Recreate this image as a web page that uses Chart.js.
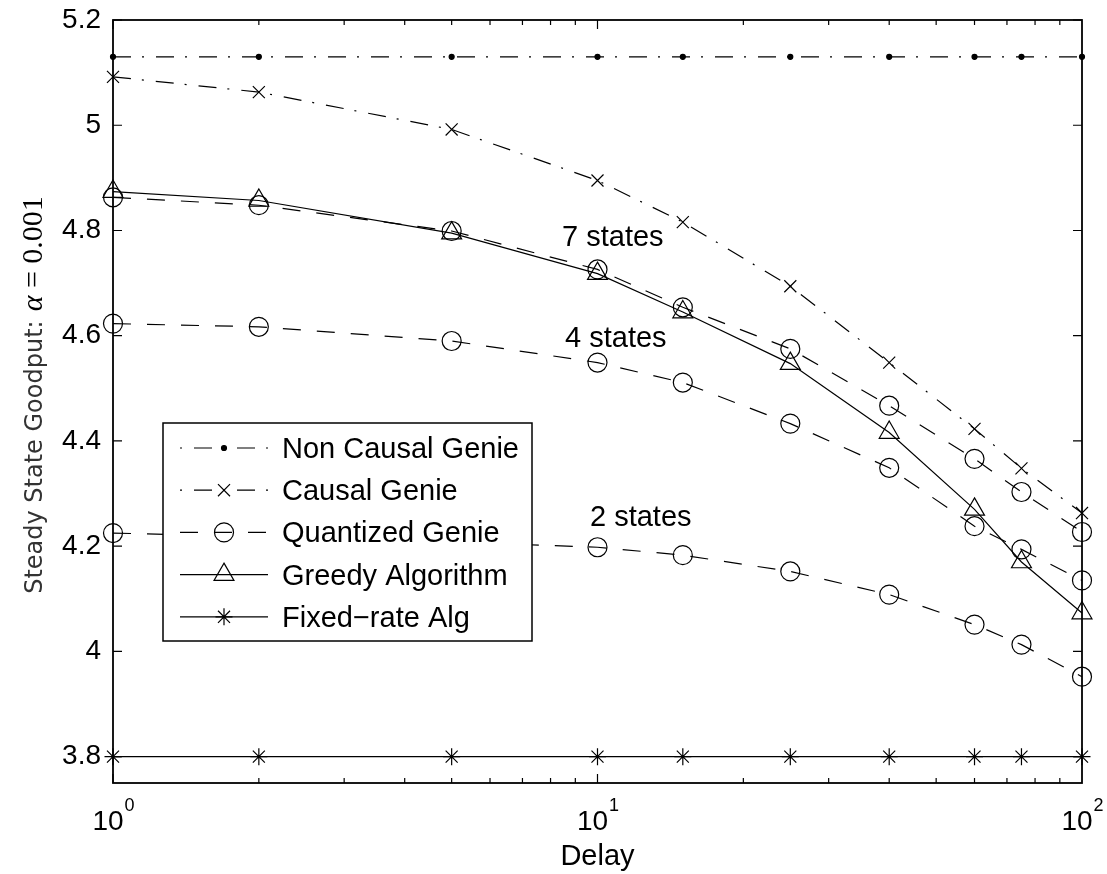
<!DOCTYPE html>
<html>
<head>
<meta charset="utf-8">
<script src="https://cdn.jsdelivr.net/npm/chart.js@4.4.1/dist/chart.umd.min.js"></script>
<style>
  html, body { margin: 0; padding: 0; background: #fff; }
  #wrap { width: 1107px; height: 874px; }
</style>
</head>
<body>
<div id="wrap"><canvas id="goodputChart" width="1107" height="874"></canvas></div>
<script>
// delay values (log x axis)
const delays = [1, 2, 5, 10, 15, 25, 40, 60, 75, 100];

const nonCausalGenie = [5.13, 5.13, 5.13, 5.13, 5.13, 5.13, 5.13, 5.13, 5.13, 5.13];
const causalGenie = [5.092, 5.063, 4.992, 4.895, 4.816, 4.694, 4.549, 4.423, 4.348, 4.263];
const quantized7 = [4.863, 4.848, 4.799, 4.726, 4.654, 4.575, 4.467, 4.366, 4.303, 4.227];
const quantized4 = [4.623, 4.617, 4.590, 4.549, 4.511, 4.433, 4.349, 4.238, 4.194, 4.135];
const quantized2 = [4.225, 4.218, 4.208, 4.198, 4.183, 4.152, 4.108, 4.051, 4.013, 3.952];
const greedy = [4.874, 4.857, 4.795, 4.718, 4.645, 4.547, 4.416, 4.270, 4.170, 4.073];
const fixedRate = [3.8, 3.8, 3.8, 3.8, 3.8, 3.8, 3.8, 3.8, 3.8, 3.8];

const yTicks = [3.8, 4, 4.2, 4.4, 4.6, 4.8, 5, 5.2];
const xMajorTicks = [1, 10, 100];
const xTickExponents = ['0', '1', '2'];

const stateLabels = ['7 states', '4 states', '2 states'];
const stateLabelAt = [[8.45, 4.771], [8.57, 4.578], [9.65, 4.238]];

const legendNames = ['Non Causal Genie', 'Causal Genie', 'Quantized Genie', 'Greedy Algorithm', 'Fixed\u2212rate Alg'];
const legendSource = [0, 1, 2, 5, 6];

const dashDot = [18, 11, 2, 12];
const dashed = [18, 16];
const SANS = '"Liberation Sans", Arial, sans-serif';

function series(label, values, dash, style, radius, filled) {
    return {
        label: label,
        data: delays.map((d, i) => ({ x: d, y: values[i] })),
        borderColor: '#000',
        borderWidth: 1.2,
        borderDash: dash,
        pointStyle: style,
        pointRadius: radius,
        pointBorderColor: '#000',
        pointBorderWidth: 1.2,
        pointBackgroundColor: filled ? '#000' : 'rgba(0,0,0,0)',
        tension: 0,
        fill: false,
        clip: false
    };
}

// draws frame, inside ticks, log labels, titles, notes and legend
const framePlugin = {
    id: 'frame',
    afterDraw(chart) {
        const ctx = chart.ctx;
        const a = chart.chartArea;
        const xs = chart.scales.x;
        const ys = chart.scales.y;
        ctx.save();
        ctx.strokeStyle = '#000';
        ctx.fillStyle = '#000';

        ctx.lineWidth = 1.8;
        ctx.strokeRect(a.left, a.top, a.right - a.left, a.bottom - a.top);

        ctx.lineWidth = 1.2;
        ctx.beginPath();
        yTicks.forEach(v => {
            const py = ys.getPixelForValue(v);
            ctx.moveTo(a.left, py); ctx.lineTo(a.left + 9, py);
            ctx.moveTo(a.right, py); ctx.lineTo(a.right - 9, py);
        });
        [1, 10].forEach(dec => {
            for (let m = 1; m <= 9; m++) {
                const px = xs.getPixelForValue(dec * m);
                const len = m === 1 ? 9 : 5;
                ctx.moveTo(px, a.bottom); ctx.lineTo(px, a.bottom - len);
                ctx.moveTo(px, a.top); ctx.lineTo(px, a.top + len);
            }
        });
        ctx.stroke();

        // x tick labels 10^n
        xMajorTicks.forEach((v, i) => {
            const px = xs.getPixelForValue(v);
            ctx.font = '28px ' + SANS;
            const wBase = ctx.measureText('10').width;
            ctx.font = '18px ' + SANS;
            const wExp = ctx.measureText(xTickExponents[i]).width;
            const left = px - (wBase + wExp) / 2;
            ctx.textAlign = 'left';
            ctx.textBaseline = 'alphabetic';
            ctx.font = '28px ' + SANS;
            ctx.fillText('10', left, 830);
            ctx.font = '18px ' + SANS;
            ctx.fillText(xTickExponents[i], left + wBase + 1, 811);
        });

        ctx.font = '29px ' + SANS;
        ctx.textAlign = 'center';
        ctx.fillText('Delay', (a.left + a.right) / 2, 865);

        // y title, sans text then the math part in serif
        const sansTxt = 'Steady State Goodput:';
        const sansFont = '24px "DejaVu Sans", sans-serif';
        const alphaFont = 'italic 30px "Liberation Serif", serif';
        const restFont = '30px "Liberation Serif", serif';
        ctx.font = sansFont;
        const wSans = ctx.measureText(sansTxt).width;
        ctx.font = alphaFont;
        const wA = ctx.measureText('\u03b1').width;
        ctx.font = restFont;
        const wRest = ctx.measureText(' = 0.001').width;
        const gap = 9;
        const total = wSans + gap + wA + wRest;
        ctx.save();
        ctx.translate(42, 395 + total / 2);
        ctx.rotate(-Math.PI / 2);
        ctx.textAlign = 'left';
        ctx.fillStyle = '#333';
        ctx.font = sansFont;
        ctx.fillText(sansTxt, 0, 0);
        ctx.fillStyle = '#000';
        ctx.font = alphaFont;
        ctx.fillText('\u03b1', wSans + gap, 0);
        ctx.font = restFont;
        ctx.fillText(' = 0.001', wSans + gap + wA, 0);
        ctx.restore();

        // state notes
        ctx.font = '29px ' + SANS;
        ctx.textAlign = 'left';
        stateLabels.forEach((t, i) => {
            ctx.fillText(t, xs.getPixelForValue(stateLabelAt[i][0]), ys.getPixelForValue(stateLabelAt[i][1]));
        });

        // legend
        const lx = 163, ly = 423, lw = 369, lh = 218;
        ctx.fillStyle = '#fff';
        ctx.fillRect(lx, ly, lw, lh);
        ctx.lineWidth = 1.5;
        ctx.strokeRect(lx, ly, lw, lh);
        legendNames.forEach((name, i) => {
            const ds = chart.data.datasets[legendSource[i]];
            const cy = 448 + i * 42.2;
            ctx.lineWidth = 1.2;
            ctx.strokeStyle = '#000';
            ctx.setLineDash(ds.borderDash || []);
            ctx.lineDashOffset = (ds.borderDash && ds.borderDash.length === 4) ? 29 : 0;
            ctx.beginPath();
            ctx.moveTo(180, cy);
            ctx.lineTo(268, cy);
            ctx.stroke();
            ctx.setLineDash([]);
            ctx.lineDashOffset = 0;
            ctx.fillStyle = ds.pointBackgroundColor;
            Chart.helpers.drawPoint(ctx, {
                pointStyle: ds.pointStyle, radius: ds.pointRadius, rotation: 0, borderWidth: 1.2
            }, 224, cy);
            ctx.fillStyle = '#000';
            ctx.font = '29px ' + SANS;
            ctx.fillText(name, 282, cy + 10);
        });
        ctx.restore();
    }
};

Chart.defaults.font.family = SANS;
Chart.defaults.color = '#000';

const ctx = document.getElementById('goodputChart').getContext('2d');
const goodputChart = new Chart(ctx, {
    type: 'line',
    data: {
        datasets: [
            series('Non Causal Genie', nonCausalGenie, dashDot, 'circle', 2.5, true),
            series('Causal Genie', causalGenie, dashDot, 'crossRot', 8.5, false),
            series('Quantized Genie', quantized7, dashed, 'circle', 9.5, false),
            series('Quantized Genie 4', quantized4, dashed, 'circle', 9.5, false),
            series('Quantized Genie 2', quantized2, dashed, 'circle', 9.5, false),
            series('Greedy Algorithm', greedy, [], 'triangle', 11.5, false),
            series('Fixed-rate Alg', fixedRate, [], 'star', 8.5, false)
        ]
    },
    options: {
        responsive: false,
        animation: false,
        devicePixelRatio: 1,
        layout: { padding: { top: 20, right: 25, left: 0, bottom: 0 } },
        plugins: {
            legend: { display: false },
            tooltip: { enabled: false }
        },
        scales: {
            x: {
                type: 'logarithmic',
                min: 1,
                max: 100,
                grid: { display: false },
                border: { display: false },
                ticks: { display: false },
                afterFit: s => { s.height = 91; s.paddingLeft = 0; s.paddingRight = 0; }
            },
            y: {
                min: 3.75,
                max: 5.2,
                afterBuildTicks: s => { s.ticks = yTicks.map(v => ({ value: v })); },
                grid: { display: false, drawTicks: false },
                border: { display: false },
                ticks: {
                    padding: 12,
                    font: { size: 28 },
                    color: '#000',
                    callback: v => String(+Number(v).toFixed(1))
                },
                afterFit: s => { s.width = 113; s.paddingTop = 0; s.paddingBottom = 0; }
            }
        }
    },
    plugins: [framePlugin]
});
</script>
</body>
</html>
